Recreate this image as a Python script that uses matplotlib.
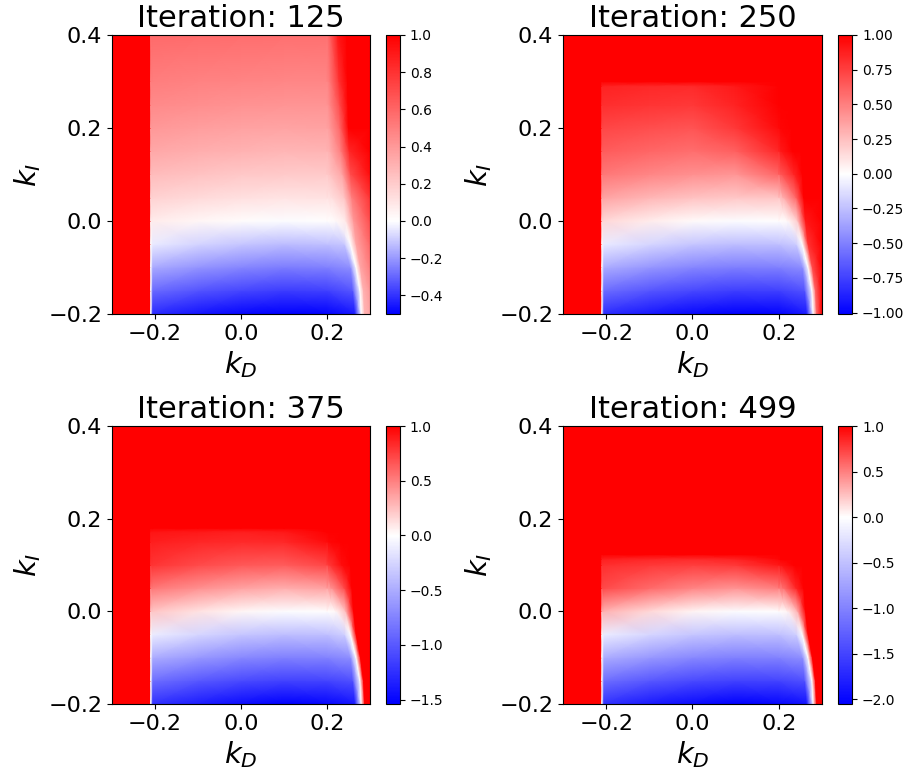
import numpy as np
import matplotlib
matplotlib.use("Agg")
import matplotlib.pyplot as plt
from matplotlib.colors import TwoSlopeNorm

iterations = [125, 250, 375, 499]
vmins = [-0.5, -1.01, -1.54, -2.05]
vmax = 1.0
diverged = 1.0

# k_D columns: diverged band on the left, edge of stable band, interior
kd_left = [-0.3, -0.2101, -0.21]
kd_inner = [-0.205, -0.1, 0.0, 0.1, 0.2]
kd_end = 0.3

# lower rows (same in every panel) and the right edge of the stable band there
ki_low = [-0.2, -0.15, -0.1, -0.05, 0.0, 0.05, 0.1]
bend_low = [0.265, 0.26, 0.255, 0.24, 0.22, 0.21, 0.205]
streak_low = [0.28, 0.277, 0.268, 0.255, 0.243, 0.24, 0.235]
outer_low = [0.288, 0.285, 0.278, 0.268, 0.262, 0.258, 0.255]

# upper rows per panel (top edge of the stable region moves down)
ki_up = [[0.15, 0.2, 0.25, 0.3, 0.4],
         [0.15, 0.2, 0.25, 0.29, 0.30, 0.4],
         [0.15, 0.172, 0.18, 0.4],
         [0.113, 0.123, 0.4]]
bend_up = [[0.205, 0.205, 0.205, 0.205, 0.205],
           [0.205, 0.205, 0.205, 0.205, 0.205, 0.205],
           [0.205, 0.205, 0.205, 0.205],
           [0.205, 0.205, 0.205]]
streak_up = [[0.232, 0.23, 0.229, 0.228, 0.225],
             [0.232, 0.23, 0.229, 0.228, 0.228, 0.225],
             [0.232, 0.231, 0.23, 0.225],
             [0.234, 0.233, 0.225]]
outer_up = [[0.252, 0.25, 0.249, 0.248, 0.246],
            [0.252, 0.25, 0.249, 0.248, 0.248, 0.246],
            [0.252, 0.251, 0.25, 0.246],
            [0.254, 0.253, 0.246]]

# values at the left edge column (k_D = -0.21), bottom row first
edge_125 = [0.0, 0.0, 0.0, 0.0, 0.075, 0.178, 0.265, 0.338, 0.40, 0.46, 0.505, 0.585]
edge_250 = [0.0, 0.0, 0.0, 0.0, 0.15, 0.356, 0.529, 0.64, 0.72, 0.82, 0.86, 1.0, 1.0]
edge_375 = [0.0, 0.0, 0.0, 0.0, 0.225, 0.53, 0.79, 0.88, 0.92, 1.0, 1.0]
edge_499 = [0.0, 0.0, 0.0, 0.0, 0.3, 0.71, 0.82, 0.88, 1.0, 1.0]

# values at kd_inner columns
inner_125 = [
    [-0.415, -0.458, -0.488, -0.50, -0.495],
    [-0.29, -0.333, -0.363, -0.38, -0.375],
    [-0.165, -0.208, -0.238, -0.255, -0.25],
    [-0.04, -0.083, -0.113, -0.13, -0.125],
    [0.075, 0.038, 0.011, -0.005, 0.0],
    [0.178, 0.144, 0.12, 0.106, 0.11],
    [0.265, 0.237, 0.218, 0.206, 0.21],
    [0.338, 0.314, 0.297, 0.287, 0.29],
    [0.40, 0.38, 0.365, 0.358, 0.36],
    [0.46, 0.44, 0.425, 0.418, 0.42],
    [0.505, 0.49, 0.48, 0.473, 0.475],
    [0.585, 0.575, 0.565, 0.56, 0.56],
]
inner_250 = [
    [-0.83, -0.915, -0.975, -1.01, -1.0],
    [-0.58, -0.665, -0.725, -0.76, -0.75],
    [-0.33, -0.415, -0.475, -0.51, -0.5],
    [-0.08, -0.165, -0.225, -0.26, -0.25],
    [0.15, 0.075, 0.022, -0.01, 0.0],
    [0.356, 0.288, 0.24, 0.211, 0.22],
    [0.529, 0.474, 0.436, 0.412, 0.60],
    [0.64, 0.60, 0.57, 0.62, 0.85],
    [0.72, 0.69, 0.67, 0.78, 0.96],
    [0.82, 0.79, 0.78, 0.86, 1.0],
    [0.86, 0.84, 0.83, 0.90, 1.0],
    [1.0, 1.0, 1.0, 1.0, 1.0],
    [1.0, 1.0, 1.0, 1.0, 1.0],
]
inner_375 = [
    [-1.245, -1.37, -1.46, -1.54, -1.5],
    [-0.87, -1.0, -1.09, -1.14, -1.125],
    [-0.495, -0.62, -0.71, -0.765, -0.75],
    [-0.12, -0.25, -0.34, -0.39, -0.375],
    [0.225, 0.11, 0.033, -0.015, 0.0],
    [0.53, 0.43, 0.36, 0.32, 0.36],
    [0.79, 0.71, 0.65, 0.64, 0.72],
    [0.88, 0.85, 0.83, 0.84, 0.95],
    [0.92, 0.90, 0.88, 0.90, 1.0],
    [1.0, 1.0, 1.0, 1.0, 1.0],
    [1.0, 1.0, 1.0, 1.0, 1.0],
]
inner_499 = [
    [-1.66, -1.83, -1.95, -2.05, -2.0],
    [-1.16, -1.33, -1.45, -1.52, -1.5],
    [-0.66, -0.83, -0.95, -1.02, -1.0],
    [-0.16, -0.33, -0.45, -0.52, -0.5],
    [0.3, 0.15, 0.044, -0.02, 0.0],
    [0.71, 0.58, 0.48, 0.42, 0.50],
    [0.82, 0.78, 0.75, 0.78, 0.90],
    [0.88, 0.85, 0.83, 0.86, 0.97],
    [1.0, 1.0, 1.0, 1.0, 1.0],
    [1.0, 1.0, 1.0, 1.0, 1.0],
]

# values at bend, streak, outer and kd_end columns
right_125 = [
    [-0.45, 0.0, 0.3, 0.35],
    [-0.33, 0.0, 0.3, 0.4],
    [-0.22, 0.0, 0.35, 0.5],
    [-0.11, 0.0, 0.35, 0.6],
    [0.02, 0.08, 0.4, 0.7],
    [0.12, 0.22, 0.5, 0.8],
    [0.22, 0.35, 0.7, 0.95],
    [0.30, 0.5, 0.85, 1.0],
    [0.38, 0.6, 1.0, 1.0],
    [0.45, 0.7, 1.0, 1.0],
    [0.5, 0.8, 1.0, 1.0],
    [0.6, 0.9, 1.0, 1.0],
]
right_250 = [
    [-0.9, 0.0, 0.6, 1.0],
    [-0.68, 0.0, 0.6, 1.0],
    [-0.45, 0.0, 0.7, 1.0],
    [-0.2, 0.0, 0.8, 1.0],
    [0.02, 0.2, 0.9, 1.0],
    [0.3, 0.6, 1.0, 1.0],
    [0.65, 0.85, 1.0, 1.0],
    [0.9, 1.0, 1.0, 1.0],
    [0.98, 1.0, 1.0, 1.0],
    [1.0, 1.0, 1.0, 1.0],
    [1.0, 1.0, 1.0, 1.0],
    [1.0, 1.0, 1.0, 1.0],
    [1.0, 1.0, 1.0, 1.0],
]
right_375 = [
    [-1.4, 0.0, 1.0, 1.0],
    [-1.05, 0.0, 1.0, 1.0],
    [-0.68, 0.0, 1.0, 1.0],
    [-0.3, 0.0, 1.0, 1.0],
    [0.03, 0.25, 1.0, 1.0],
    [0.42, 0.7, 1.0, 1.0],
    [0.78, 0.95, 1.0, 1.0],
    [0.97, 1.0, 1.0, 1.0],
    [1.0, 1.0, 1.0, 1.0],
    [1.0, 1.0, 1.0, 1.0],
    [1.0, 1.0, 1.0, 1.0],
]
right_499 = [
    [-1.9, 0.0, 1.0, 1.0],
    [-1.4, 0.0, 1.0, 1.0],
    [-0.9, 0.0, 1.0, 1.0],
    [-0.4, 0.0, 1.0, 1.0],
    [0.04, 0.3, 1.0, 1.0],
    [0.55, 0.85, 1.0, 1.0],
    [0.92, 1.0, 1.0, 1.0],
    [1.0, 1.0, 1.0, 1.0],
    [1.0, 1.0, 1.0, 1.0],
    [1.0, 1.0, 1.0, 1.0],
]

edges = [edge_125, edge_250, edge_375, edge_499]
inners = [inner_125, inner_250, inner_375, inner_499]
rights = [right_125, right_250, right_375, right_499]

fig = plt.figure(figsize=(9.12, 7.76), dpi=100)
ax_pos = [[0.1228, 0.5954, 0.2829, 0.3595],
          [0.6173, 0.5954, 0.2840, 0.3595],
          [0.1228, 0.0928, 0.2829, 0.3582],
          [0.6173, 0.0928, 0.2840, 0.3582]]
cb_pos = [[0.4232, 0.5954, 0.0154, 0.3595],
          [0.9185, 0.5954, 0.0160, 0.3595],
          [0.4232, 0.0928, 0.0154, 0.3582],
          [0.9185, 0.0928, 0.0160, 0.3582]]

for k in range(4):
    ki_rows = ki_low + ki_up[k]
    bend = bend_low + bend_up[k]
    streak = streak_low + streak_up[k]
    outer = outer_low + outer_up[k]

    X, Y, Z = [], [], []
    for r, ki in enumerate(ki_rows):
        xs = kd_left + kd_inner + [bend[r], streak[r], outer[r], kd_end]
        X.append(xs)
        Y.append([ki] * len(xs))
        Z.append([diverged, diverged, edges[k][r]] + inners[k][r] + rights[k][r])
    X = np.array(X)
    Y = np.array(Y)
    Z = np.array(Z)

    ax = fig.add_axes(ax_pos[k])
    norm = TwoSlopeNorm(vmin=vmins[k], vcenter=0.0, vmax=vmax)
    mesh = ax.pcolormesh(X, Y, Z, shading='gouraud', cmap='bwr', norm=norm)
    ax.set_xlim(-0.3, 0.3)
    ax.set_ylim(-0.2, 0.4)
    ax.set_xticks([-0.2, 0.0, 0.2])
    ax.set_yticks([-0.2, 0.0, 0.2, 0.4])
    ax.tick_params(labelsize=16)
    ax.set_xlabel('$k_D$', fontsize=21)
    ax.set_ylabel('$k_I$', fontsize=21)
    ax.set_title('Iteration: {}'.format(iterations[k]), fontsize=22)

    cax = fig.add_axes(cb_pos[k])
    cb = fig.colorbar(mesh, cax=cax)
    cb.ax.set_yscale('linear')
    cb.ax.tick_params(labelsize=10)

plt.savefig('out.png', dpi=100)
